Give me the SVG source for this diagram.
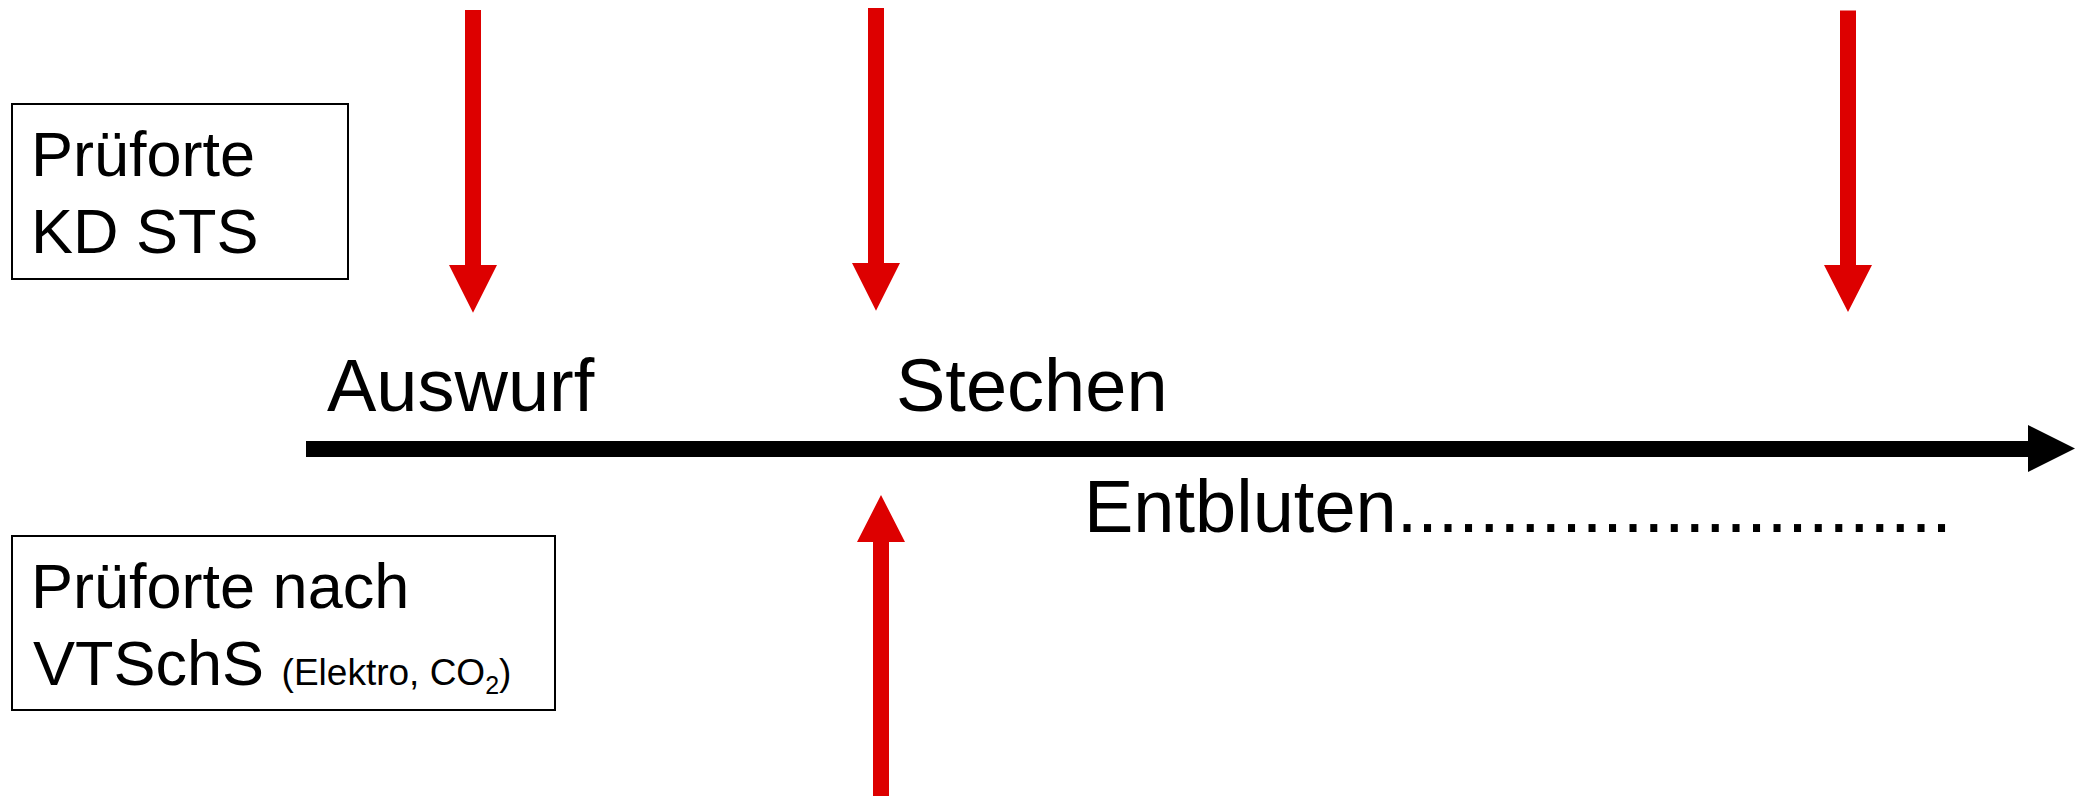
<svg xmlns="http://www.w3.org/2000/svg" width="2081" height="796" viewBox="0 0 2081 796">
<style>
.t{font-family:"Liberation Sans",Arial,sans-serif;fill:#000}
.big{font-size:74px}
.box{fill:#fff;stroke:#000;stroke-width:2}
.lbl{font-size:63px}
.red{fill:#DD0000}
</style>
<rect x="0" y="0" width="2081" height="796" fill="#fff"/>
<g id="box-kd-sts">
<rect class="box" x="12" y="104" width="336" height="175"/>
<text class="t lbl" x="31" y="176">Prüforte</text>
<text class="t lbl" x="31" y="253">KD STS</text>
</g>
<g id="box-vtschs">
<rect class="box" x="12" y="536" width="543" height="174"/>
<text class="t lbl" x="33" y="685">VTSchS <tspan font-size="37">(Elektro, CO</tspan><tspan font-size="25" dy="9">2</tspan><tspan font-size="37" dy="-9">)</tspan></text>
<text class="t lbl" x="31" y="608">Prüforte nach</text>
</g>
<g id="label-auswurf"><text class="t big" x="327" y="411">Auswurf</text></g>
<g id="label-stechen"><text class="t big" x="896" y="411">Stechen</text></g>
<g id="label-entbluten"><text class="t big" x="1084" y="532">Entbluten...........................</text></g>
<g id="connectors">
<polygon id="timeline" points="306,441 2028,441 2028,425 2075,448.6 2028,472 2028,457 306,457" fill="#000"/>
<polygon id="arrow-auswurf" class="red" points="465,10 481,10 481,265 497,265 473,312.7 449,265 465,265"/>
<polygon id="arrow-stechen" class="red" points="868,8 884,8 884,263 900,263 876,310.7 852,263 868,263"/>
<polygon id="arrow-right" class="red" points="1840,10.5 1856,10.5 1856,265 1872,265 1848,312 1824,265 1840,265"/>
<polygon id="arrow-up" class="red" points="873,796 889,796 889,542 905,542 881,495 857,542 873,542"/>
</g>
</svg>
